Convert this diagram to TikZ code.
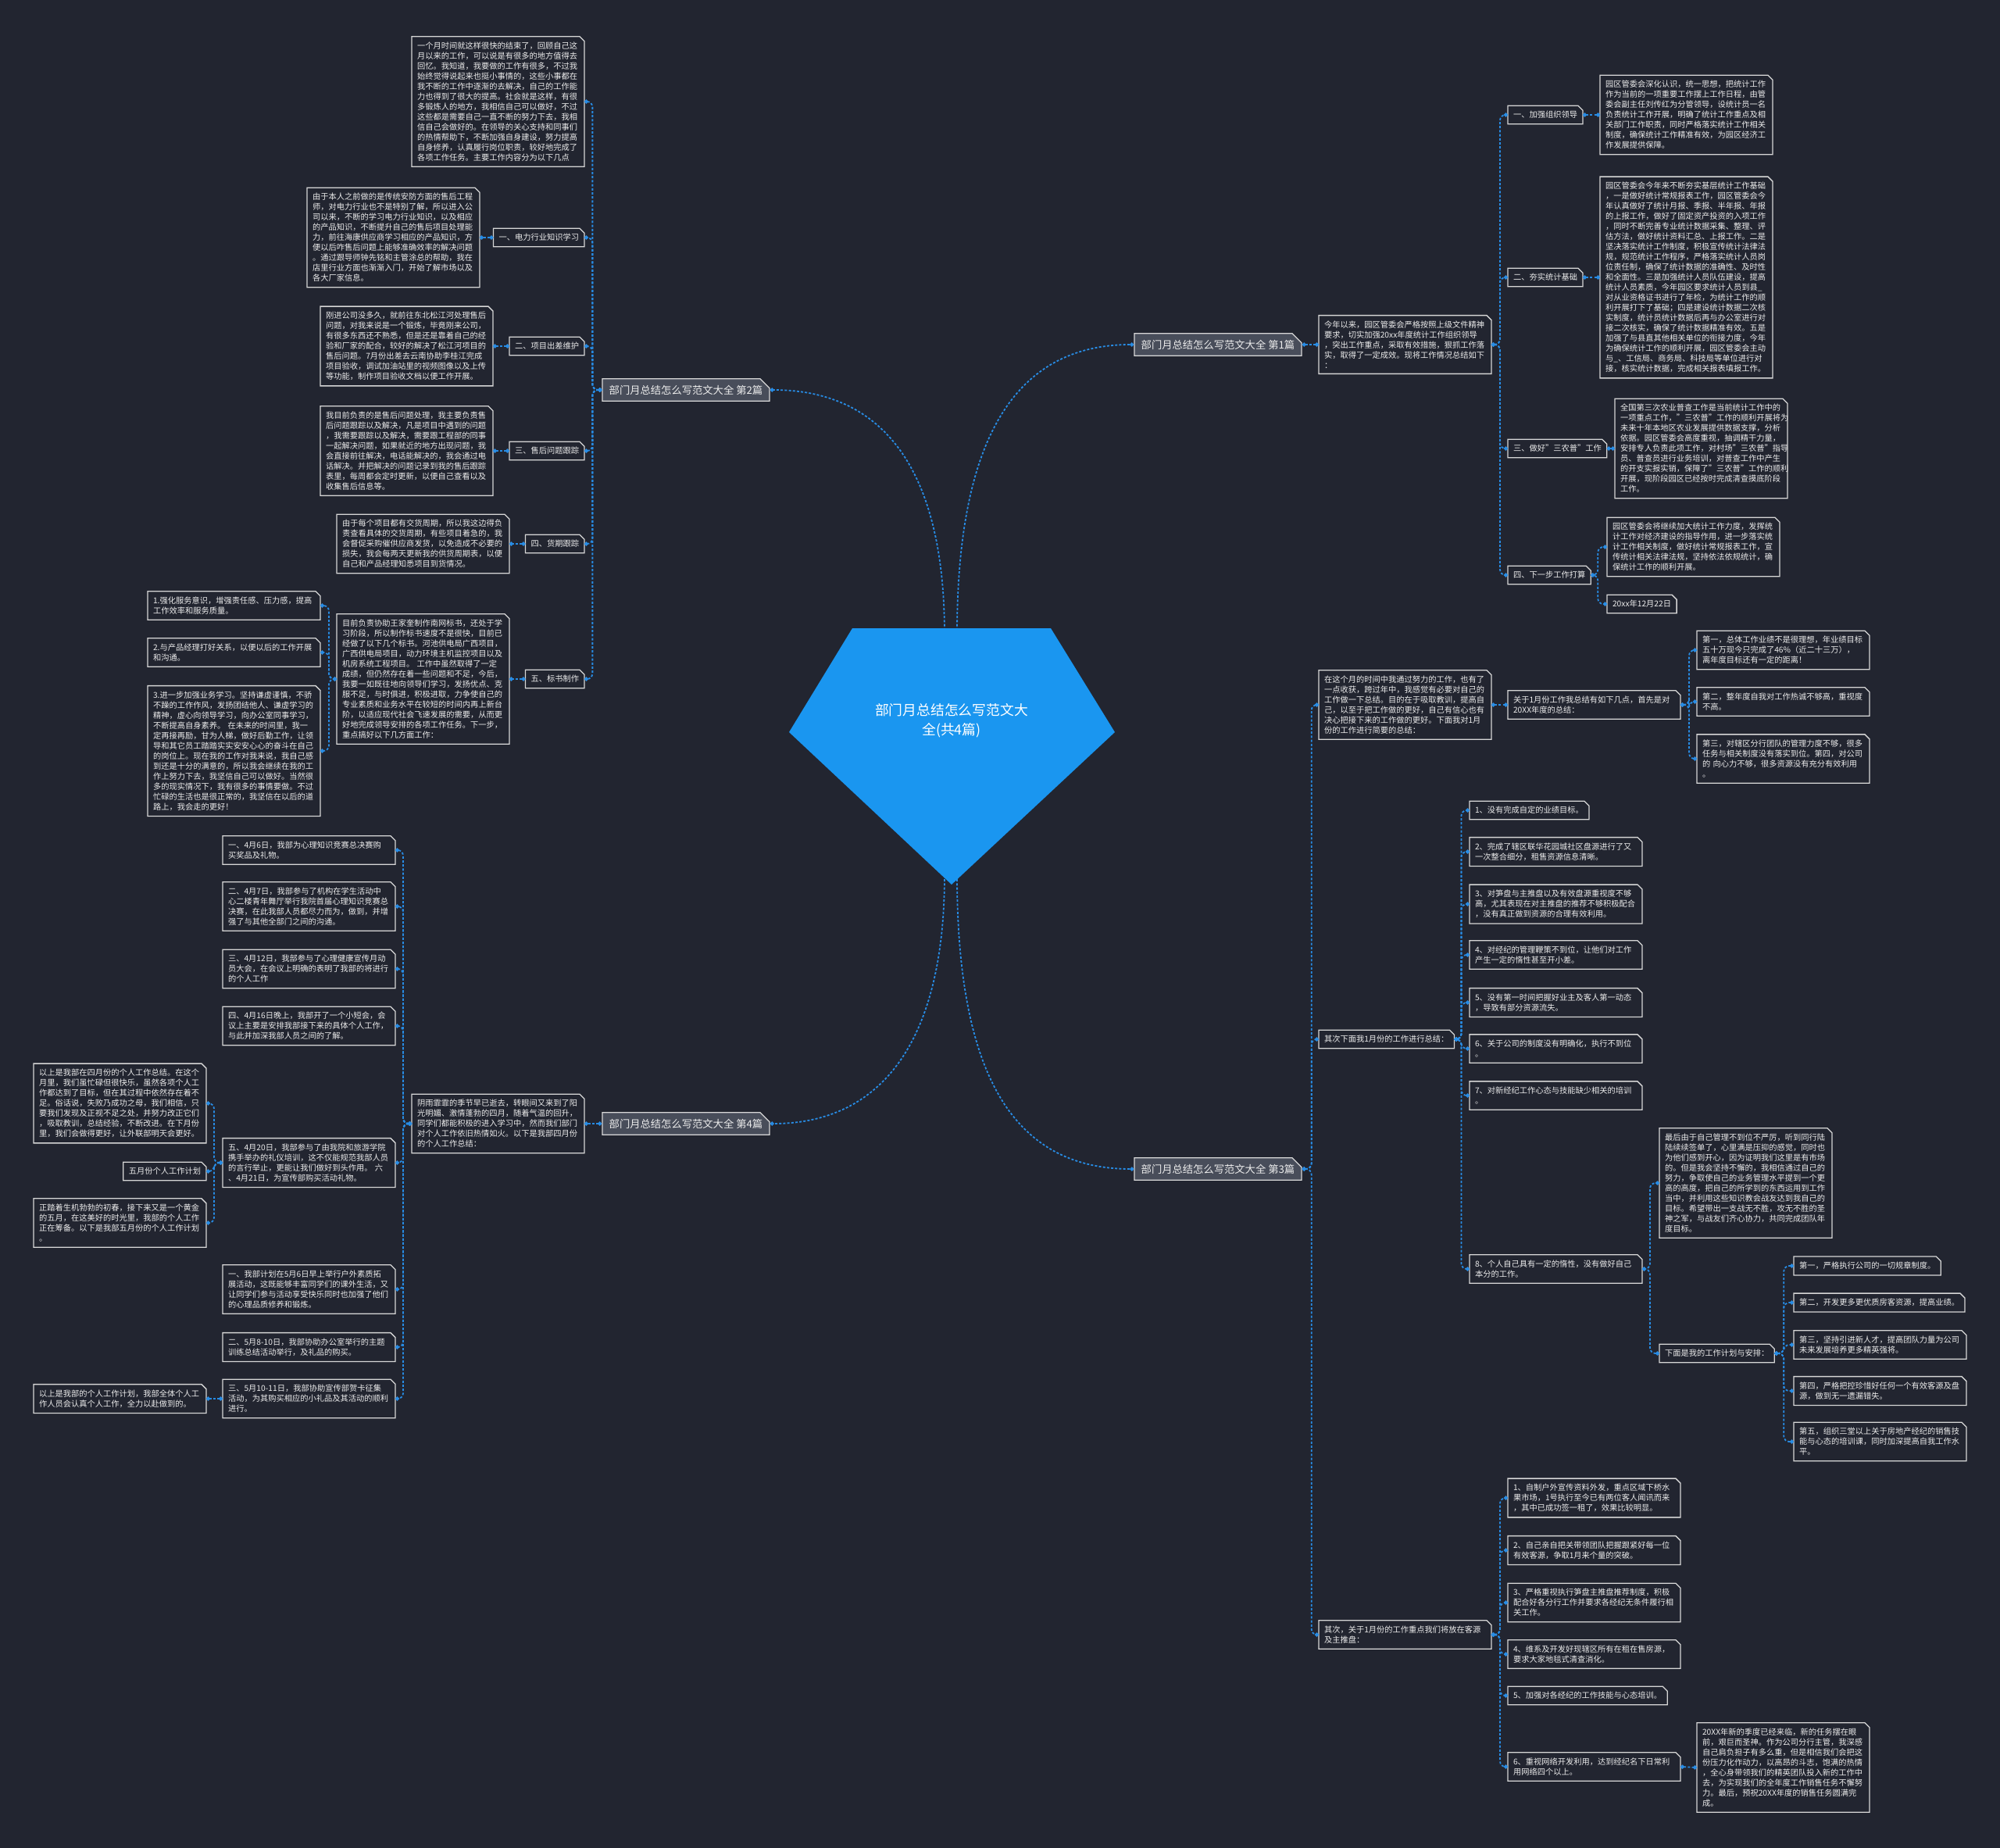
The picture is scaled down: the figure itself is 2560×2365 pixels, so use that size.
\documentclass[tikz,border=0pt]{standalone}
\usepackage{fontspec}
\setmainfont{Noto Sans CJK SC}
\usetikzlibrary{arrows.meta,shapes.misc}
\definecolor{bg}{RGB}{34,37,48}
\definecolor{linkblue}{RGB}{40,140,228}
\definecolor{rootblue}{RGB}{26,150,240}
\definecolor{txt}{RGB}{236,236,236}
\definecolor{edge}{RGB}{215,215,215}
\definecolor{tagfill}{RGB}{72,77,90}
\begin{document}
\begin{tikzpicture}[x=1pt,y=-1pt,
		box/.style={rectangle, fill=bg, text=txt, align=left, inner xsep=7pt, inner ysep=7pt, outer sep=0pt, font=\fontsize{10.25pt}{13pt}\selectfont},
		para/.style={box, text width=207pt},
		tag/.style={shape=chamfered rectangle, chamfered rectangle corners=north east, chamfered rectangle sep=6pt, fill=tagfill, draw=edge, line width=1.3pt, text=txt, inner sep=2pt, font=\fontsize{13.3pt}{16pt}\selectfont, minimum width=214pt, minimum height=27pt},
		outline/.style={draw=edge, line width=1.3pt},
		link/.style={draw=linkblue, line width=1.8pt, dash pattern=on 3pt off 2.2pt, rounded corners=7pt, {Circle[length=5pt]}-{Circle[length=5pt]}},
		rootlink/.style={link, -{Circle[length=5pt]}},
		fork/.style={to path={-- ++(#1,0) |- (\tikztotarget)}}]
		\fill[bg] (0,0) rectangle (2560,2365);
		\useasboundingbox (0,0) rectangle (2560,2365);

		% branch 2
		\node[tag] (B2) at (878,499) {部门月总结怎么写范文大全 第2篇};
		\node[para, anchor=east] (T2top) at (748,130) {一个月时间就这样很快的结束了，回顾自己这\\月以来的工作，可以说是有很多的地方值得去\\回忆。我知道，我要做的工作有很多，不过我\\始终觉得说起来也挺小事情的，这些小事都在\\我不断的工作中逐渐的去解决，自己的工作能\\力也得到了很大的提高。社会就是这样，有很\\多锻炼人的地方，我相信自己可以做好，不过\\这些都是需要自己一直不断的努力下去，我相\\信自己会做好的。在领导的关心支持和同事们\\的热情帮助下，不断加强自身建设，努力提高\\自身修养，认真履行岗位职责，较好地完成了\\各项工作任务。主要工作内容分为以下几点};
		\node[box, anchor=east] (L2a) at (748,304) {一、电力行业知识学习};
		\node[para, anchor=east] (T2a) at (614,304) {由于本人之前做的是传统安防方面的售后工程\\师，对电力行业也不是特别了解，所以进入公\\司以来，不断的学习电力行业知识，以及相应\\的产品知识，不断提升自己的售后项目处理能\\力，前往海康供应商学习相应的产品知识，方\\便以后咋售后问题上能够准确效率的解决问题\\。通过跟导师钟先铭和主管涂总的帮助，我在\\店里行业方面也渐渐入门，开始了解市场以及\\各大厂家信息。};
		\node[box, anchor=east] (L2b) at (748,443) {二、项目出差维护};
		\node[para, anchor=east] (T2b) at (631,443) {刚进公司没多久，就前往东北松江河处理售后\\问题，对我来说是一个锻炼，毕竟刚来公司，\\有很多东西还不熟悉，但是还是靠着自己的经\\验和厂家的配合，较好的解决了松江河项目的\\售后问题。7月份出差去云南协助李桂江完成\\项目验收，调试加油站里的视频图像以及上传\\等功能，制作项目验收文档以便工作开展。};
		\node[box, anchor=east] (L2c) at (748,577) {三、售后问题跟踪};
		\node[para, anchor=east] (T2c) at (631,577) {我目前负责的是售后问题处理，我主要负责售\\后问题跟踪以及解决，凡是项目中遇到的问题\\，我需要跟踪以及解决，需要跟工程部的同事\\一起解决问题，如果就近的地方出现问题，我\\会直接前往解决，电话能解决的，我会通过电\\话解决。并把解决的问题记录到我的售后跟踪\\表里，每周都会定时更新，以便自己查看以及\\收集售后信息等。};
		\node[box, anchor=east] (L2d) at (748,696) {四、货期跟踪};
		\node[para, anchor=east] (T2d) at (652,696) {由于每个项目都有交货周期，所以我这边得负\\责查看具体的交货周期，有些项目着急的，我\\会督促采购催供应商发货，以免造成不必要的\\损失，我会每两天更新我的供货周期表，以便\\自己和产品经理知悉项目到货情况。};
		\node[box, anchor=east] (L2e) at (748,869) {五、标书制作};
		\node[para, anchor=east] (T2e) at (652,869) {目前负责协助王家奎制作南网标书，还处于学\\习阶段，所以制作标书速度不是很快，目前已\\经做了以下几个标书。河池供电局广西项目，\\广西供电局项目，动力环境主机监控项目以及\\机房系统工程项目。 工作中虽然取得了一定\\成绩，但仍然存在着一些问题和不足，今后，\\我要一如既往地向领导们学习，发扬优点、克\\服不足，与时俱进，积极进取，力争使自己的\\专业素质和业务水平在较短的时间内再上新台\\阶，以适应现代社会飞速发展的需要，从而更\\好地完成领导安排的各项工作任务。下一步，\\重点搞好以下几方面工作：};
		\node[para, anchor=east] (S1) at (410,775) {1.强化服务意识，增强责任感、压力感，提高\\工作效率和服务质量。};
		\node[para, anchor=east] (S2) at (410,835) {2.与产品经理打好关系，以便以后的工作开展\\和沟通。};
		\node[para, anchor=east] (S3) at (410,961) {3.进一步加强业务学习。坚持谦虚谨慎，不骄\\不躁的工作作风，发扬团结他人、谦虚学习的\\精神，虚心向领导学习，向办公室同事学习，\\不断提高自身素养。 在未来的时间里，我一\\定再接再励，甘为人梯，做好后勤工作，让领\\导和其它员工踏踏实实安安心心的奋斗在自己\\的岗位上。现在我的工作对我来说，我自己感\\到还是十分的满意的，所以我会继续在我的工\\作上努力下去，我坚信自己可以做好。当然很\\多的现实情况下，我有很多的事情要做。不过\\忙碌的生活也是很正常的，我坚信在以后的道\\路上，我会走的更好！};

		% branch 4
		\node[tag] (B4) at (878,1438) {部门月总结怎么写范文大全 第4篇};
		\node[para, anchor=east] (I4) at (748,1438) {阴雨霏霏的季节早已逝去，转眼间又来到了阳\\光明媚、激情蓬勃的四月，随着气温的回升，\\同学们都能积极的进入学习中，然而我们部门\\对个人工作依旧热情如火。以下是我部四月份\\的个人工作总结：};
		\node[para, anchor=east] (A1) at (506,1088) {一、4月6日，我部为心理知识竞赛总决赛购\\买奖品及礼物。};
		\node[para, anchor=east] (A2) at (506,1160) {二、4月7日，我部参与了机构在学生活动中\\心二楼青年舞厅举行我院首届心理知识竞赛总\\决赛，在此我部人员都尽力而为，做到，并增\\强了与其他全部门之间的沟通。};
		\node[para, anchor=east] (A3) at (506,1240) {三、4月12日，我部参与了心理健康宣传月动\\员大会，在会议上明确的表明了我部的将进行\\的个人工作};
		\node[para, anchor=east] (A4) at (506,1313) {四、4月16日晚上，我部开了一个小短会，会\\议上主要是安排我部接下来的具体个人工作，\\与此并加深我部人员之间的了解。};
		\node[para, anchor=east] (A5) at (506,1488) {五、4月20日，我部参与了由我院和旅游学院\\携手举办的礼仪培训，这不仅能规范我部人员\\的言行举止，更能让我们做好到头作用。 六\\、4月21日，为宣传部购买活动礼物。};
		\node[para, anchor=east] (A6) at (506,1650) {一、我部计划在5月6日早上举行户外素质拓\\展活动，这既能够丰富同学们的课外生活，又\\让同学们参与活动享受快乐同时也加强了他们\\的心理品质修养和锻炼。};
		\node[para, anchor=east] (A7) at (506,1724) {二、5月8-10日，我部协助办公室举行的主题\\训练总结活动举行，及礼品的购买。};
		\node[para, anchor=east] (A8) at (506,1790) {三、5月10-11日，我部协助宣传部贺卡征集\\活动，为其购买相应的小礼品及其活动的顺利\\进行。};
		\node[para, anchor=east] (C1) at (264,1412) {以上是我部在四月份的个人工作总结。在这个\\月里，我们虽忙碌但很快乐，虽然各项个人工\\作都达到了目标，但在其过程中依然存在着不\\足。俗话说，失败乃成功之母，我们相信，只\\要我们发现及正视不足之处，并努力改正它们\\，吸取教训，总结经验，不断改进。在下月份\\里，我们会做得更好，让外联部明天会更好。};
		\node[box, anchor=east] (C2) at (264,1499) {五月份个人工作计划};
		\node[para, anchor=east] (C3) at (264,1565) {正踏着生机勃勃的初春，接下来又是一个黄金\\的五月，在这美好的时光里，我部的个人工作\\正在筹备。以下是我部五月份的个人工作计划\\。};
		\node[para, anchor=east] (C4) at (264,1790) {以上是我部的个人工作计划，我部全体个人工\\作人员会认真个人工作，全力以赴做到的。};

		% branch 1
		\node[tag] (B1) at (1559,441) {部门月总结怎么写范文大全 第1篇};
		\node[para, anchor=west] (I1) at (1688,441) {今年以来，园区管委会严格按照上级文件精神\\要求，切实加强20xx年度统计工作组织领导\\，突出工作重点，采取有效措施，狠抓工作落\\实，取得了一定成效。现将工作情况总结如下\\：};
		\node[box, anchor=west] (M1) at (1930,147) {一、加强组织领导};
		\node[para, anchor=west] (P1) at (2048,147) {园区管委会深化认识，统一思想，把统计工作\\作为当前的一项重要工作摆上工作日程，由管\\委会副主任刘传红为分管领导，设统计员一名\\负责统计工作开展，明确了统计工作重点及相\\关部门工作职责，同时严格落实统计工作相关\\制度，确保统计工作精准有效，为园区经济工\\作发展提供保障。};
		\node[box, anchor=west] (M2) at (1930,355) {二、夯实统计基础};
		\node[para, anchor=west] (P2) at (2048,355) {园区管委会今年来不断夯实基层统计工作基础\\，一是做好统计常规报表工作，园区管委会今\\年认真做好了统计月报、季报、半年报、年报\\的上报工作，做好了固定资产投资的入项工作\\，同时不断完善专业统计数据采集、整理、评\\估方法，做好统计资料汇总、上报工作。二是\\坚决落实统计工作制度，积极宣传统计法律法\\规，规范统计工作程序，严格落实统计人员岗\\位责任制，确保了统计数据的准确性、及时性\\和全面性。三是加强统计人员队伍建设，提高\\统计人员素质，今年园区要求统计人员到县\_\\对从业资格证书进行了年检，为统计工作的顺\\利开展打下了基础；四是建设统计数据二次核\\实制度，统计员统计数据后再与办公室进行对\\接二次核实，确保了统计数据精准有效。五是\\加强了与县直其他相关单位的衔接力度，今年\\为确保统计工作的顺利开展，园区管委会主动\\与\_、工信局、商务局、科技局等单位进行对\\接，核实统计数据，完成相关报表填报工作。};
		\node[box, anchor=west] (M3) at (1930,574) {三、做好"三农普"工作};
		\node[para, anchor=west] (P3) at (2067,574) {全国第三次农业普查工作是当前统计工作中的\\一项重点工作，"三农普"工作的顺利开展将为\\未来十年本地区农业发展提供数据支撑，分析\\依据。园区管委会高度重视，抽调精干力量，\\安排专人负责此项工作，对村场"三农普"指导\\员、普查员进行业务培训，对普查工作中产生\\的开支实报实销，保障了"三农普"工作的顺利\\开展，现阶段园区已经按时完成清查摸底阶段\\工作。};
		\node[box, anchor=west] (M4) at (1930,736) {四、下一步工作打算};
		\node[para, anchor=west] (P4) at (2057,700) {园区管委会将继续加大统计工作力度，发挥统\\计工作对经济建设的指导作用，进一步落实统\\计工作相关制度，做好统计常规报表工作，宣\\传统计相关法律法规，坚持依法依规统计，确\\保统计工作的顺利开展。};
		\node[box, anchor=west] (D4) at (2057,773) {20xx年12月22日};

		% branch 3
		\node[tag] (B3) at (1559,1496) {部门月总结怎么写范文大全 第3篇};
		\node[para, anchor=west] (J1) at (1688,902) {在这个月的时间中我通过努力的工作，也有了\\一点收获，跨过年中，我感觉有必要对自己的\\工作做一下总结。目的在于吸取教训，提高自\\己，以至于把工作做的更好，自己有信心也有\\决心把接下来的工作做的更好。下面我对1月\\份的工作进行简要的总结：};
		\node[para, anchor=west] (K0) at (1930,902) {关于1月份工作我总结有如下几点，首先是对\\20XX年度的总结：};
		\node[para, anchor=west] (K1) at (2172,832) {第一，总体工作业绩不是很理想，年业绩目标\\五十万现今只完成了46\%（近二十三万），\\离年度目标还有一定的距离！};
		\node[para, anchor=west] (K2) at (2172,898) {第二，整年度自我对工作热诚不够高，重视度\\不高。};
		\node[para, anchor=west] (K3) at (2172,971) {第三，对辖区分行团队的管理力度不够，很多\\任务与相关制度没有落实到位。第四，对公司\\的 向心力不够，很多资源没有充分有效利用\\。};
		\node[box, anchor=west] (J2) at (1688,1330) {其次下面我1月份的工作进行总结：};
		\node[box, anchor=west] (R1) at (1881,1037) {1、没有完成自定的业绩目标。};
		\node[para, anchor=west] (R2) at (1881,1090) {2、完成了辖区联华花园城社区盘源进行了又\\一次整合细分，租售资源信息清晰。};
		\node[para, anchor=west] (R3) at (1881,1157) {3、对笋盘与主推盘以及有效盘源重视度不够\\高，尤其表现在对主推盘的推荐不够积极配合\\，没有真正做到资源的合理有效利用。};
		\node[para, anchor=west] (R4) at (1881,1222) {4、对经纪的管理鞭策不到位，让他们对工作\\产生一定的惰性甚至开小差。};
		\node[para, anchor=west] (R5) at (1881,1283) {5、没有第一时间把握好业主及客人第一动态\\，导致有部分资源流失。};
		\node[para, anchor=west] (R6) at (1881,1342) {6、关于公司的制度没有明确化，执行不到位\\。};
		\node[para, anchor=west] (R7) at (1881,1402) {7、对新经纪工作心态与技能缺少相关的培训\\。};
		\node[para, anchor=west] (R8) at (1881,1624) {8、个人自己具有一定的惰性，没有做好自己\\本分的工作。};
		\node[para, anchor=west] (Z1) at (2124,1514) {最后由于自己管理不到位不严厉，听到同行陆\\陆续续签单了，心里满是压抑的感觉，同时也\\为他们感到开心，因为证明我们这里是有市场\\的。但是我会坚持不懈的，我相信通过自己的\\努力，争取使自己的业务管理水平提到一个更\\高的高度，把自己的所学到的东西运用到工作\\当中，并利用这些知识教会战友达到我自己的\\目标。希望带出一支战无不胜，攻无不胜的圣\\神之军，与战友们齐心协力，共同完成团队年\\度目标。};
		\node[box, anchor=west] (Z2) at (2124,1732) {下面是我的工作计划与安排：};
		\node[box, anchor=west] (W1) at (2296,1620) {第一，严格执行公司的一切规章制度。};
		\node[box, anchor=west] (W2) at (2296,1667) {第二，开发更多更优质房客资源，提高业绩。};
		\node[para, anchor=west] (W3) at (2296,1721) {第三，坚持引进新人才，提高团队力量为公司\\未来发展培养更多精英强将。};
		\node[para, anchor=west] (W4) at (2296,1780) {第四，严格把控珍惜好任何一个有效客源及盘\\源，做到无一遗漏错失。};
		\node[para, anchor=west] (W5) at (2296,1845) {第五，组织三堂以上关于房地产经纪的销售技\\能与心态的培训课，同时加深提高自我工作水\\平。};
		\node[para, anchor=west] (J3) at (1688,2092) {其次，关于1月份的工作重点我们将放在客源\\及主推盘：};
		\node[para, anchor=west] (Q1) at (1930,1917) {1、自制户外宣传资料外发，重点区域下桥水\\果市场，1号执行至今已有两位客人闻讯而来\\，其中已成功签一租了，效果比较明显。};
		\node[para, anchor=west] (Q2) at (1930,1984) {2、自己亲自把关带领团队把握跟紧好每一位\\有效客源，争取1月来个量的突破。};
		\node[para, anchor=west] (Q3) at (1930,2051) {3、严格重视执行笋盘主推盘推荐制度，积极\\配合好各分行工作并要求各经纪无条件履行相\\关工作。};
		\node[para, anchor=west] (Q4) at (1930,2117) {4、维系及开发好现辖区所有在租在售房源，\\要求大家地毯式清查消化。};
		\node[box, anchor=west] (Q5) at (1930,2170) {5、加强对各经纪的工作技能与心态培训。};
		\node[para, anchor=west] (Q6) at (1930,2261) {6、重视网络开发利用，达到经纪名下日常利\\用网络四个以上。};
		\node[para, anchor=west] (V6) at (2172,2262) {20XX年新的季度已经来临，新的任务摆在眼\\前，艰巨而圣神。作为公司分行主管，我深感\\自己肩负担子有多么重，但是相信我们会把这\\份压力化作动力，以高昂的斗志，饱满的热情\\，全心身带领我们的精英团队投入新的工作中\\去，为实现我们的全年度工作销售任务不懈努\\力。最后，预祝20XX年度的销售任务圆满完\\成。};

		% box outlines, top right corner cut
		\foreach \n in {T2top,L2a,T2a,L2b,T2b,L2c,T2c,L2d,T2d,L2e,T2e,S1,S2,S3,I4,A1,A2,A3,A4,A5,A6,A7,A8,C1,C2,C3,C4,I1,M1,P1,M2,P2,M3,P3,M4,P4,D4,J1,K0,K1,K2,K3,J2,R1,R2,R3,R4,R5,R6,R7,R8,Z1,Z2,W1,W2,W3,W4,W5,J3,Q1,Q2,Q3,Q4,Q5,Q6,V6}
			\draw[outline] (\n.north west) -- ([xshift=-6pt]\n.north east) -- ([yshift=-6pt]\n.north east) -- (\n.south east) -- (\n.south west) -- cycle;

		% connectors
		\foreach \n in {T2top,L2a,L2b,L2c,L2d,L2e} \draw[link] (B2.west) to[fork=-12] (\n.east);
		\foreach \a/\b in {L2a/T2a,L2b/T2b,L2c/T2c,L2d/T2d,L2e/T2e} \draw[link] (\a.west) -- (\b.east);
		\foreach \n in {S1,S2,S3} \draw[link] (T2e.west) to[fork=-10] (\n.east);
		\draw[link] (B4.west) -- (I4.east);
		\foreach \n in {A1,A2,A3,A4,A5,A6,A7,A8} \draw[link] (I4.west) to[fork=-11] (\n.east);
		\foreach \n in {C1,C2,C3} \draw[link] (A5.west) to[fork=-11] (\n.east);
		\draw[link] (A8.west) -- (C4.east);
		\draw[link] (B1.east) -- (I1.west);
		\foreach \n in {M1,M2,M3,M4} \draw[link] (I1.east) to[fork=11] (\n.west);
		\foreach \a/\b in {M1/P1,M2/P2,M3/P3} \draw[link] (\a.east) -- (\b.west);
		\foreach \n in {P4,D4} \draw[link] (M4.east) to[fork=9] (\n.west);
		\foreach \n in {J1,J2,J3} \draw[link] (B3.east) to[fork=12] (\n.west);
		\draw[link] (J1.east) -- (K0.west);
		\foreach \n in {K1,K2,K3} \draw[link] (K0.east) to[fork=11] (\n.west);
		\foreach \n in {R1,R2,R3,R4,R5,R6,R7,R8} \draw[link] (J2.east) to[fork=9] (\n.west);
		\foreach \n in {Z1,Z2} \draw[link] (R8.east) to[fork=10] (\n.west);
		\foreach \n in {W1,W2,W3,W4,W5} \draw[link] (Z2.east) to[fork=12] (\n.west);
		\foreach \n in {Q1,Q2,Q3,Q4,Q5,Q6} \draw[link] (J3.east) to[fork=11] (\n.west);
		\draw[link] (Q6.east) -- (V6.west);

		% centre
		\coordinate (rootNL) at (1209,812);
		\coordinate (rootNR) at (1225,812);
		\coordinate (rootSL) at (1209,1120);
		\coordinate (rootSR) at (1225,1120);
		\draw[rootlink] (rootNR) .. controls (1225,560) and (1300,441) .. (B1.west);
		\draw[rootlink] (rootNL) .. controls (1209,600) and (1130,499) .. (B2.east);
		\draw[rootlink] (rootSL) .. controls (1209,1330) and (1130,1438) .. (B4.east);
		\draw[rootlink] (rootSR) .. controls (1225,1380) and (1300,1496) .. (B3.west);
		\fill[rootblue] (1091,804) -- (1345,804) -- (1427,937) -- (1218,1132) -- (1010,937) -- cycle;
		\node[text=white, align=center, font=\fontsize{17.8pt}{25pt}\selectfont] (root) at (1218,922) {部门月总结怎么写范文大\\全(共4篇)};
\end{tikzpicture}
\end{document}
